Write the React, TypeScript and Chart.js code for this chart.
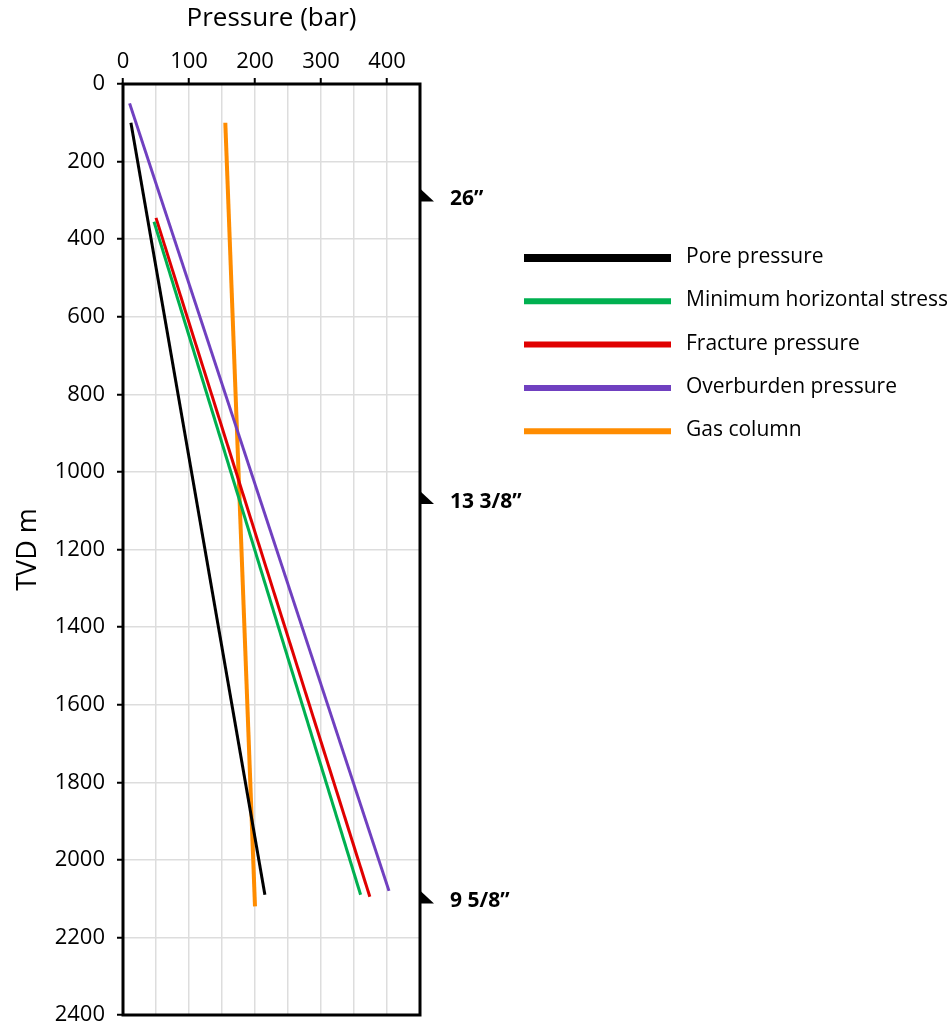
import React, { useEffect, useRef } from "react";
import { Chart, registerables } from "chart.js";

Chart.register(...registerables);

// ---- data ----
const seriesLabels = [
  "Pore pressure",
  "Minimum horizontal stress",
  "Fracture pressure",
  "Overburden pressure",
  "Gas column",
];
const seriesColors = ["#000000", "#00b050", "#e00000", "#7040c0", "#ff8c00"];

const porePressure = [12, 215];
const poreDepth = [100, 2090];
const minHorizPressure = [47, 360];
const minHorizDepth = [355, 2090];
const fracturePressure = [50, 374];
const fractureDepth = [345, 2095];
const overburdenPressure = [10, 403];
const overburdenDepth = [50, 2080];
const gasPressure = [155, 200];
const gasDepth = [100, 2120];

const casingDepths = [300, 1080, 2110];
const casingLabels = ["26\u201d", "13 3/8\u201d", "9 5/8\u201d"];

const FONT = "'Open Sans', 'DejaVu Sans', sans-serif";

function pts(xs: number[], ys: number[]) {
  return xs.map((x, i) => ({ x, y: ys[i] }));
}

const framePlugin = {
  id: "frame",
  afterDatasetsDraw(chart: any) {
    const { ctx, chartArea } = chart;
    const { left, right, top, bottom } = chartArea;
    ctx.save();
    ctx.strokeStyle = "#000";
    ctx.lineWidth = 3;
    ctx.strokeRect(left, top, right - left, bottom - top);

    // casing shoe markers
    const yScale = chart.scales.y;
    ctx.fillStyle = "#000";
    ctx.font = `bold 21px ${FONT}`;
    ctx.textBaseline = "middle";
    ctx.textAlign = "left";
    casingDepths.forEach((d, i) => {
      const y = yScale.getPixelForValue(d);
      ctx.beginPath();
      ctx.moveTo(right, y - 12);
      ctx.lineTo(right + 14, y + 1);
      ctx.lineTo(right, y + 1);
      ctx.closePath();
      ctx.fill();
      ctx.fillText(casingLabels[i], right + 30, y - 1);
    });

    // legend
    ctx.font = `21px ${FONT}`;
    chart.data.datasets.forEach((ds: any, i: number) => {
      const y = 258 + i * 43.3;
      ctx.strokeStyle = ds.borderColor;
      ctx.lineWidth = i === 0 ? 8 : 6;
      ctx.lineCap = "butt";
      ctx.beginPath();
      ctx.moveTo(524, y);
      ctx.lineTo(671, y);
      ctx.stroke();
      ctx.fillStyle = "#000";
      ctx.fillText(ds.label, 686, y - 1);
    });
    ctx.restore();
  },
};

export default function App() {
  const ref = useRef<HTMLCanvasElement | null>(null);
  useEffect(() => {
    document.body.style.margin = "0";
    const canvas = ref.current!;
    const seriesData = [
      pts(porePressure, poreDepth),
      pts(minHorizPressure, minHorizDepth),
      pts(fracturePressure, fractureDepth),
      pts(overburdenPressure, overburdenDepth),
      pts(gasPressure, gasDepth),
    ];
    const chart = new Chart(canvas, {
      type: "scatter",
      data: {
        datasets: seriesData.map((d, i) => ({
          label: seriesLabels[i],
          data: d,
          showLine: true,
          borderColor: seriesColors[i],
          backgroundColor: seriesColors[i],
          borderWidth: i === 4 ? 4 : 3,
          pointRadius: 0,
          pointHoverRadius: 0,
        })),
      },
      options: {
        animation: false,
        responsive: false,
        devicePixelRatio: 1,
        layout: {
          autoPadding: false,
          padding: { left: 0, top: 0, right: 532, bottom: 8 },
        },
        plugins: {
          legend: { display: false },
          tooltip: { enabled: false },
        },
        scales: {
          x: {
            type: "linear",
            position: "top",
            min: 0,
            max: 450,
            afterFit: (s: any) => {
              s.height = 84;
              s.paddingLeft = 0;
              s.paddingRight = 0;
            },
            ticks: {
              stepSize: 50,
              autoSkip: false,
              maxRotation: 0,
              color: "#000",
              font: { family: FONT, size: 22 },
              padding: 3,
              callback: (v: any) => (Number(v) % 100 === 0 ? String(v) : ""),
            },
            grid: {
              color: "#dddddd",
              lineWidth: 1.5,
              drawTicks: true,
              tickLength: 6,
              tickWidth: 2,
              tickColor: (c: any) =>
                c.tick && c.tick.value % 100 === 0 ? "#000" : "rgba(0,0,0,0)",
            },
            border: { display: false },
            title: {
              display: true,
              text: "Pressure (bar)",
              color: "#000",
              font: { family: FONT, size: 26 },
              padding: { top: 3, bottom: 0 },
            },
          },
          y: {
            type: "linear",
            reverse: true,
            min: 0,
            max: 2400,
            afterFit: (s: any) => {
              s.width = 123;
              s.paddingTop = 0;
              s.paddingBottom = 0;
            },
            ticks: {
              stepSize: 200,
              autoSkip: false,
              color: "#000",
              font: { family: FONT, size: 22 },
              padding: 12,
              callback: (v: any) => String(v),
            },
            grid: {
              color: "#dddddd",
              lineWidth: 1.5,
              drawTicks: true,
              tickLength: 6,
              tickWidth: 2,
              tickColor: "#000",
            },
            border: { display: false },
            title: {
              display: true,
              text: "TVD m",
              color: "#000",
              font: { family: FONT, size: 27 },
              padding: { top: 12, bottom: 0 },
            },
          },
        },
      },
      plugins: [framePlugin],
    });
    return () => chart.destroy();
  }, []);
  return (
    <div style={{ width: 952, height: 1023, position: "relative" }}>
      <canvas ref={ref} width={952} height={1023} style={{ width: 952, height: 1023, display: "block" }} />
    </div>
  );
}
